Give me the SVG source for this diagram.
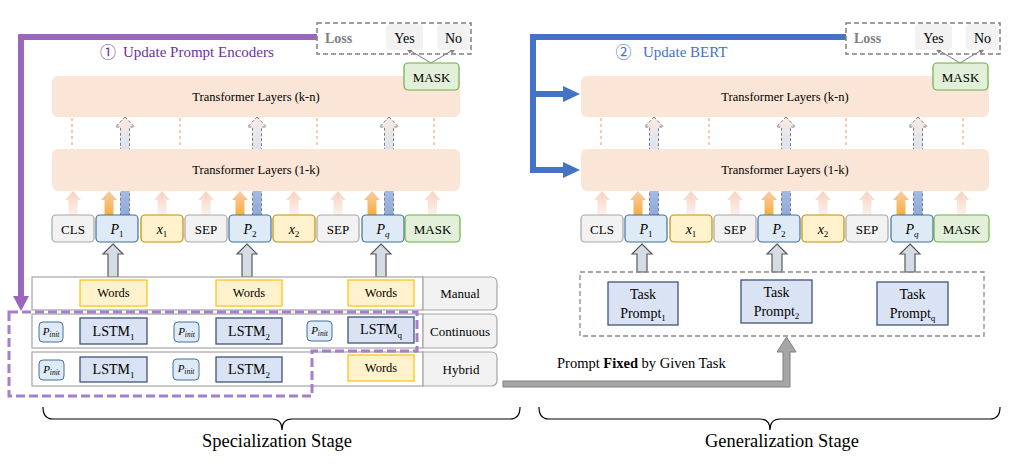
<svg xmlns="http://www.w3.org/2000/svg" width="1017" height="465" viewBox="0 0 1017 465" font-family="'Liberation Serif', 'Times New Roman', serif">
<style>
text{font-family:"Liberation Serif","Times New Roman",serif;fill:#000}
.layer{fill:#FBE5D6}
.lt{font-size:12.5px;text-anchor:middle}
.tk{font-size:13px;text-anchor:middle}
.gray{fill:#F2F2F2;stroke:#A6A6A6;stroke-width:1.2}
.ptok{fill:#DEEBF7;stroke:#41719C;stroke-width:1.2}
.xtok{fill:#FFF2CC;stroke:#BF9000;stroke-width:1.2}
.mask{fill:#E2F0D9;stroke:#70AD47;stroke-width:1.2}
.words{fill:#FFF2CC;stroke:#FFC000;stroke-width:1.2}
.wt{font-size:12.5px;text-anchor:middle}
.lstm{fill:#DAE3F3;stroke:#3F5478;stroke-width:1.3}
.lst{font-size:14px;text-anchor:middle}
.pinit{fill:#DEEBF7;stroke:#41719C;stroke-width:1}
.pit{font-size:11px;font-style:italic;text-anchor:middle}
.row{fill:#fff;stroke:#A6A6A6;stroke-width:1.2}
.cell{fill:#F2F2F2;stroke:#A6A6A6;stroke-width:1.2}
.lab{font-size:13px;text-anchor:middle}
.dot{stroke:#F8CBAD;stroke-width:2;stroke-dasharray:3 3;fill:none}
.fa{fill:url(#gPeach)}
.oa{fill:url(#gOrange)}
.da{fill:url(#gBlue);stroke:#7F7F7F;stroke-width:1;stroke-dasharray:3 2}
.ua{fill:#D6DCE5;stroke:#595959;stroke-width:1.2}
.loss{fill:none;stroke:#808080;stroke-width:1.5;stroke-dasharray:5 3}
.yn{fill:#F2F2F2}
.ynt{font-size:14px;text-anchor:middle}
.losst{font-size:14px;font-weight:bold;fill:#7F7F7F}
.thin{stroke:#808080;stroke-width:1;fill:none}
.small{stroke:#404040;stroke-width:1;fill:none}
.i{font-style:italic}
.task{fill:#DAE3F3;stroke:#3F5478;stroke-width:1.3}
.tt{font-size:14px;text-anchor:middle}
.brace{fill:none;stroke:#000;stroke-width:1.2}
.stage{font-size:18px;text-anchor:middle}
</style>
<defs>
<linearGradient id="gPeach" x1="0" y1="0" x2="0" y2="1">
<stop offset="0" stop-color="#F7D3BF"/><stop offset="1" stop-color="#FCF1EB"/>
</linearGradient>
<linearGradient id="gOrange" x1="0" y1="0" x2="0" y2="1">
<stop offset="0" stop-color="#F9CDAA"/><stop offset="1" stop-color="#F8AE3C"/>
</linearGradient>
<linearGradient id="gBlue" x1="0" y1="0" x2="0" y2="1">
<stop offset="0" stop-color="#FBEAE2"/><stop offset="0.35" stop-color="#D9E3F2"/><stop offset="0.76" stop-color="#A3BAE2"/><stop offset="1" stop-color="#8EA9DB"/>
</linearGradient>
<marker id="mg" viewBox="0 0 10 10" refX="9" refY="5" markerWidth="7" markerHeight="7" orient="auto"><path d="M0 1 L10 5 L0 9 Z" fill="#808080"/></marker>
<marker id="md" viewBox="0 0 10 10" refX="9" refY="5" markerWidth="6" markerHeight="6" orient="auto"><path d="M0 1 L10 5 L0 9 Z" fill="#404040"/></marker>
<path id="faint" d="M0 191 L8 200 H4.5 V215 H-4.5 V200 H-8 Z"/>
<path id="dash" d="M0 117 L9.5 127 H4.5 V215 H-4.5 V127 H-9.5 Z"/>
<path id="upL" d="M0 244 L10 254 H5 V277 H-5 V254 H-10 Z"/>
<path id="upR" d="M0 244 L10 254 H5 V272 H-5 V254 H-10 Z"/>
</defs>

<!-- connectors -->
<g id="connectors">
  <g id="conn-left">
    <use href="#dash" x="125" class="da"/>
    <use href="#dash" x="257" class="da"/>
    <use href="#dash" x="389" class="da"/>
    <line class="dot" x1="72" y1="118" x2="72" y2="148"/>
    <line class="dot" x1="180" y1="118" x2="180" y2="148"/>
    <line class="dot" x1="317" y1="118" x2="317" y2="148"/>
    <line class="dot" x1="434" y1="118" x2="434" y2="148"/>
    <use href="#faint" x="73" class="fa"/>
    <use href="#faint" x="162" class="fa"/>
    <use href="#faint" x="206" class="fa"/>
    <use href="#faint" x="294" class="fa"/>
    <use href="#faint" x="338" class="fa"/>
    <use href="#faint" x="432.5" class="fa"/>
    <use href="#faint" x="109" class="oa"/>
    <use href="#faint" x="240" class="oa"/>
    <use href="#faint" x="372" class="oa"/>
    <use href="#upL" x="113" class="ua"/>
    <use href="#upL" x="247" class="ua"/>
    <use href="#upL" x="381" class="ua"/>
    <line class="thin" x1="431" y1="63" x2="406" y2="48" marker-end="url(#mg)"/>
    <line class="thin" x1="431" y1="63" x2="456" y2="48" marker-end="url(#mg)"/>
    <line class="small" x1="64" y1="332" x2="79" y2="332" marker-end="url(#md)"/>
    <line class="small" x1="199" y1="332" x2="215" y2="332" marker-end="url(#md)"/>
    <line class="small" x1="332" y1="331" x2="347" y2="331" marker-end="url(#md)"/>
    <line class="small" x1="64" y1="370" x2="79" y2="370" marker-end="url(#md)"/>
    <line class="small" x1="199" y1="370" x2="215" y2="370" marker-end="url(#md)"/>
  </g>
  <g id="conn-right" transform="translate(529,0)">
    <use href="#dash" x="125" class="da"/>
    <use href="#dash" x="257" class="da"/>
    <use href="#dash" x="389" class="da"/>
    <line class="dot" x1="72" y1="118" x2="72" y2="148"/>
    <line class="dot" x1="180" y1="118" x2="180" y2="148"/>
    <line class="dot" x1="317" y1="118" x2="317" y2="148"/>
    <line class="dot" x1="434" y1="118" x2="434" y2="148"/>
    <use href="#faint" x="73" class="fa"/>
    <use href="#faint" x="162" class="fa"/>
    <use href="#faint" x="206" class="fa"/>
    <use href="#faint" x="294" class="fa"/>
    <use href="#faint" x="338" class="fa"/>
    <use href="#faint" x="432.5" class="fa"/>
    <use href="#faint" x="109" class="oa"/>
    <use href="#faint" x="240" class="oa"/>
    <use href="#faint" x="372" class="oa"/>
    <use href="#upR" x="113" class="ua"/>
    <use href="#upR" x="248" class="ua"/>
    <use href="#upR" x="381" class="ua"/>
    <line class="thin" x1="431" y1="63" x2="406" y2="48" marker-end="url(#mg)"/>
    <line class="thin" x1="431" y1="63" x2="456" y2="48" marker-end="url(#mg)"/>
  </g>
  <g id="conn-purple">
    <path d="M317 37 H21 V297" fill="none" stroke="#9A66BE" stroke-width="6"/>
    <polygon points="13,296 29,296 21,311" fill="#9A66BE"/>
  </g>
  <g id="conn-blue">
    <path d="M846 37 H533 V170 H564" fill="none" stroke="#4472C4" stroke-width="6"/>
    <path d="M533 94 H564" fill="none" stroke="#4472C4" stroke-width="6"/>
    <polygon points="563,86 580,94 563,102" fill="#4472C4"/>
    <polygon points="563,162 580,170 563,178" fill="#4472C4"/>
  </g>
  <g id="conn-gray">
    <polygon points="503,381 783,381 783,352 777,352 786.5,337 796,352 790,352 790,387 503,387" fill="#A6A6A6" stroke="#808080" stroke-width="1"/>
  </g>
</g>

<!-- LEFT PANEL -->
<g id="left-loss">
  <rect class="loss" x="317" y="23" width="154" height="31"/>
  <text class="losst" x="325" y="43">Loss</text>
  <rect class="yn" x="386" y="24" width="37" height="26" rx="4"/>
  <text class="ynt" x="404.5" y="43">Yes</text>
  <rect class="yn" x="437" y="24" width="33" height="26" rx="4"/>
  <text class="ynt" x="453.5" y="43">No</text>
</g>
<g id="left-title">
  <text x="108" y="57.5" font-size="16" text-anchor="middle" style="fill:#7030A0;font-family:'Noto Sans CJK SC','DejaVu Sans',sans-serif">①</text>
  <text x="123" y="57" font-size="15" style="fill:#7030A0">Update Prompt Encoders</text>
</g>
<g id="left-layer-kn">
  <rect class="layer" x="52" y="76" width="408" height="41" rx="6"/>
  <text class="lt" x="256" y="101">Transformer Layers (k-n)</text>
</g>
<g id="left-layer-1k">
  <rect class="layer" x="52" y="149" width="408" height="42" rx="6"/>
  <text class="lt" x="256" y="174">Transformer Layers (1-k)</text>
</g>
<g id="left-mask-out">
  <rect class="mask" x="404" y="63" width="55" height="27" rx="4"/>
  <text class="tk" x="431.5" y="81.5">MASK</text>
</g>
<g id="left-tokens">
  <g id="L-cls"><rect class="gray" x="52" y="215" width="42" height="27" rx="4"/><text class="tk" x="73" y="233.5">CLS</text></g>
  <g id="L-p1"><rect class="ptok" x="96" y="215" width="42" height="27" rx="4"/><text class="tk" x="117" y="233.5"><tspan class="i" font-size="14">P</tspan><tspan font-size="9" dy="3">1</tspan></text></g>
  <g id="L-x1"><rect class="xtok" x="141" y="215" width="42" height="27" rx="4"/><text class="tk" x="162" y="233.5"><tspan class="i" font-size="14">x</tspan><tspan font-size="9" dy="3">1</tspan></text></g>
  <g id="L-sep1"><rect class="gray" x="185" y="215" width="42" height="27" rx="4"/><text class="tk" x="206" y="233.5">SEP</text></g>
  <g id="L-p2"><rect class="ptok" x="229" y="215" width="42" height="27" rx="4"/><text class="tk" x="250" y="233.5"><tspan class="i" font-size="14">P</tspan><tspan font-size="9" dy="3">2</tspan></text></g>
  <g id="L-x2"><rect class="xtok" x="273" y="215" width="42" height="27" rx="4"/><text class="tk" x="294" y="233.5"><tspan class="i" font-size="14">x</tspan><tspan font-size="9" dy="3">2</tspan></text></g>
  <g id="L-sep2"><rect class="gray" x="317" y="215" width="42" height="27" rx="4"/><text class="tk" x="338" y="233.5">SEP</text></g>
  <g id="L-pq"><rect class="ptok" x="362" y="215" width="42" height="27" rx="4"/><text class="tk" x="383" y="233.5"><tspan class="i" font-size="14">P</tspan><tspan class="i" font-size="9" dy="3">q</tspan></text></g>
  <g id="L-mask"><rect class="mask" x="405" y="215" width="55" height="27" rx="4"/><text class="tk" x="432.5" y="233.5">MASK</text></g>
</g>
<g id="row-manual">
  <rect class="row" x="32" y="277" width="391" height="33"/>
  <path class="cell" d="M423 277 H491 Q497 277 497 283 V304 Q497 310 491 310 H423 Z"/>
  <text class="lab" x="460" y="297.5">Manual</text>
  <rect class="words" x="80" y="280" width="67" height="26"/><text class="wt" x="113.5" y="297">Words</text>
  <rect class="words" x="216" y="280" width="66" height="26"/><text class="wt" x="249" y="297">Words</text>
  <rect class="words" x="348" y="280" width="66" height="26"/><text class="wt" x="381" y="297">Words</text>
</g>
<g id="row-continuous">
  <rect class="row" x="32" y="314" width="391" height="34"/>
  <path class="cell" d="M423 314 H491 Q497 314 497 320 V342 Q497 348 491 348 H423 Z"/>
  <text class="lab" x="460" y="335.5">Continuous</text>
  <rect class="pinit" x="39" y="322" width="24" height="20" rx="4"/><text class="pit" x="51" y="334.5">P<tspan font-size="7.5" dy="2">init</tspan></text>
  <rect class="lstm" x="80" y="318" width="67" height="26"/><text class="lst" x="113.5" y="335.5">LSTM<tspan font-size="9" dy="4">1</tspan></text>
  <rect class="pinit" x="174" y="322" width="25" height="20" rx="4"/><text class="pit" x="186.5" y="334.5">P<tspan font-size="7.5" dy="2">init</tspan></text>
  <rect class="lstm" x="216" y="318" width="66" height="26"/><text class="lst" x="249" y="335.5">LSTM<tspan font-size="9" dy="4">2</tspan></text>
  <rect class="pinit" x="307" y="321" width="25" height="20" rx="4"/><text class="pit" x="319.5" y="333.5">P<tspan font-size="7.5" dy="2">init</tspan></text>
  <rect class="lstm" x="348" y="317" width="66" height="26"/><text class="lst" x="381" y="334">LSTM<tspan font-size="9" dy="4">q</tspan></text>
</g>
<g id="row-hybrid">
  <rect class="row" x="32" y="352" width="391" height="34"/>
  <path class="cell" d="M423 352 H491 Q497 352 497 358 V380 Q497 386 491 386 H423 Z"/>
  <text class="lab" x="461" y="373.5">Hybrid</text>
  <rect class="pinit" x="39" y="360" width="25" height="20" rx="4"/><text class="pit" x="51.5" y="372.5">P<tspan font-size="7.5" dy="2">init</tspan></text>
  <rect class="lstm" x="80" y="357" width="67" height="25"/><text class="lst" x="113.5" y="374">LSTM<tspan font-size="9" dy="4">1</tspan></text>
  <rect class="pinit" x="173" y="359" width="26" height="21" rx="4"/><text class="pit" x="186" y="372">P<tspan font-size="7.5" dy="2">init</tspan></text>
  <rect class="lstm" x="216" y="357" width="66" height="25"/><text class="lst" x="249" y="374">LSTM<tspan font-size="9" dy="4">2</tspan></text>
  <rect class="words" x="348" y="355" width="66" height="26"/><text class="wt" x="381" y="372">Words</text>
</g>
<g id="prompt-encoder-region">
  <path d="M9 312 H417 V351 H312 V396 H9 Z" fill="none" stroke="#A57FCC" stroke-width="3" stroke-dasharray="9 4"/>
</g>

<!-- RIGHT PANEL -->
<g id="right-panel" transform="translate(529,0)">
  <g id="right-loss">
    <rect class="loss" x="317" y="23" width="154" height="31"/>
    <text class="losst" x="325" y="43">Loss</text>
    <rect class="yn" x="386" y="24" width="37" height="26" rx="4"/>
    <text class="ynt" x="404.5" y="43">Yes</text>
    <rect class="yn" x="437" y="24" width="33" height="26" rx="4"/>
    <text class="ynt" x="453.5" y="43">No</text>
  </g>
  <g id="right-layer-kn">
    <rect class="layer" x="52" y="76" width="408" height="41" rx="6"/>
    <text class="lt" x="256" y="101">Transformer Layers (k-n)</text>
  </g>
  <g id="right-layer-1k">
    <rect class="layer" x="52" y="149" width="408" height="42" rx="6"/>
    <text class="lt" x="256" y="174">Transformer Layers (1-k)</text>
  </g>
  <g id="right-mask-out">
    <rect class="mask" x="404" y="63" width="55" height="27" rx="4"/>
    <text class="tk" x="431.5" y="81.5">MASK</text>
  </g>
  <g id="right-tokens">
    <g id="R-cls"><rect class="gray" x="52" y="215" width="42" height="27" rx="4"/><text class="tk" x="73" y="233.5">CLS</text></g>
    <g id="R-p1"><rect class="ptok" x="96" y="215" width="42" height="27" rx="4"/><text class="tk" x="117" y="233.5"><tspan class="i" font-size="14">P</tspan><tspan font-size="9" dy="3">1</tspan></text></g>
    <g id="R-x1"><rect class="xtok" x="141" y="215" width="42" height="27" rx="4"/><text class="tk" x="162" y="233.5"><tspan class="i" font-size="14">x</tspan><tspan font-size="9" dy="3">1</tspan></text></g>
    <g id="R-sep1"><rect class="gray" x="185" y="215" width="42" height="27" rx="4"/><text class="tk" x="206" y="233.5">SEP</text></g>
    <g id="R-p2"><rect class="ptok" x="229" y="215" width="42" height="27" rx="4"/><text class="tk" x="250" y="233.5"><tspan class="i" font-size="14">P</tspan><tspan font-size="9" dy="3">2</tspan></text></g>
    <g id="R-x2"><rect class="xtok" x="273" y="215" width="42" height="27" rx="4"/><text class="tk" x="294" y="233.5"><tspan class="i" font-size="14">x</tspan><tspan font-size="9" dy="3">2</tspan></text></g>
    <g id="R-sep2"><rect class="gray" x="317" y="215" width="42" height="27" rx="4"/><text class="tk" x="338" y="233.5">SEP</text></g>
    <g id="R-pq"><rect class="ptok" x="362" y="215" width="42" height="27" rx="4"/><text class="tk" x="383" y="233.5"><tspan class="i" font-size="14">P</tspan><tspan class="i" font-size="9" dy="3">q</tspan></text></g>
    <g id="R-mask"><rect class="mask" x="405" y="215" width="55" height="27" rx="4"/><text class="tk" x="432.5" y="233.5">MASK</text></g>
  </g>
</g>
<g id="right-title">
  <text x="623.5" y="57.5" font-size="16" text-anchor="middle" style="fill:#4472C4;font-family:'Noto Sans CJK SC','DejaVu Sans',sans-serif">②</text>
  <text x="643" y="57" font-size="15" style="fill:#4472C4">Update BERT</text>
</g>
<g id="task-prompts">
  <rect x="580" y="272" width="404" height="64" fill="none" stroke="#8C8C8C" stroke-width="1.3" stroke-dasharray="5 3"/>
  <g id="task1"><rect class="task" x="608" y="282" width="70" height="43"/><text class="tt" x="643" y="299">Task</text><text class="tt" x="643" y="318">Prompt<tspan font-size="9" dy="3">1</tspan></text></g>
  <g id="task2"><rect class="task" x="741" y="280" width="71" height="43"/><text class="tt" x="776.5" y="297">Task</text><text class="tt" x="776.5" y="316">Prompt<tspan font-size="9" dy="3">2</tspan></text></g>
  <g id="taskq"><rect class="task" x="877" y="282" width="71" height="43"/><text class="tt" x="912.5" y="299">Task</text><text class="tt" x="912.5" y="318">Prompt<tspan font-size="9" dy="3">q</tspan></text></g>
</g>
<g id="fixed-label">
  <text x="557" y="368" font-size="14.5">Prompt <tspan font-weight="bold">Fixed</tspan> by Given Task</text>
</g>
<g id="stages">
  <path class="brace" d="M43 407 Q43 419 53 419 H272 Q282 419 282 430 Q282 419 292 419 H510 Q520 419 520 407"/>
  <path class="brace" d="M539 407 Q539 419 549 419 H760 Q770 419 770 430 Q770 419 780 419 H990 Q1000 419 1000 407"/>
  <text class="stage" x="277" y="447" textLength="150" lengthAdjust="spacingAndGlyphs">Specialization Stage</text>
  <text class="stage" x="782" y="447" textLength="154" lengthAdjust="spacingAndGlyphs">Generalization Stage</text>
</g>
</svg>
